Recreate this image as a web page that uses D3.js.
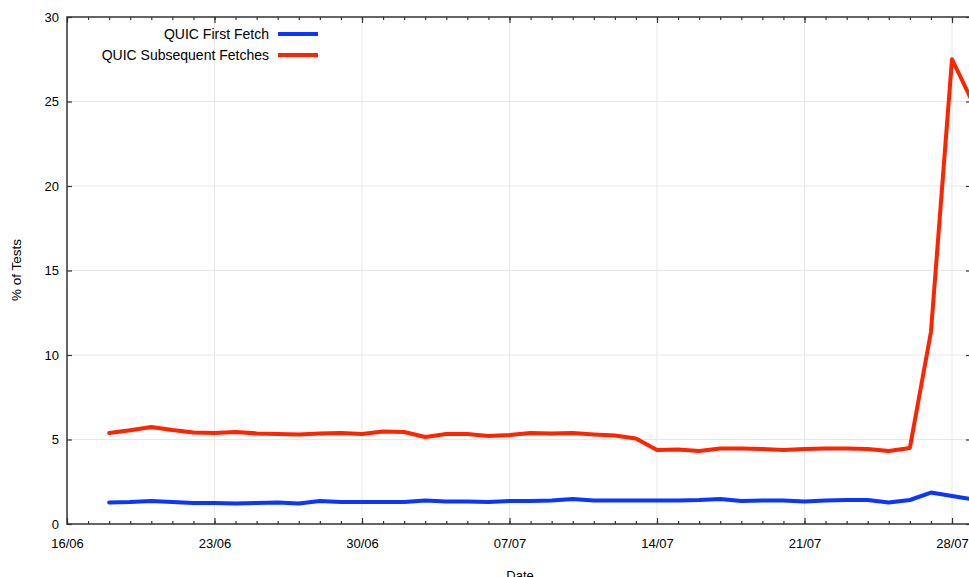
<!DOCTYPE html>
<html><head><meta charset="utf-8">
<script src="https://cdn.jsdelivr.net/npm/d3@7/dist/d3.min.js"></script>
<style>
html,body{margin:0;padding:0;background:#fff;overflow:hidden}
svg{display:block;font-family:"Liberation Sans",Arial,Helvetica,sans-serif}
</style></head>
<body><svg id="c" width="969" height="577"></svg>
<script>
const startDate = "2014-06-18";
const seriesNames = ["QUIC First Fetch", "QUIC Subsequent Fetches"];
const firstFetch = [1.27,1.30,1.36,1.30,1.24,1.24,1.21,1.24,1.27,1.21,1.36,1.30,1.30,1.30,1.30,1.39,1.33,1.33,1.30,1.36,1.36,1.39,1.48,1.39,1.39,1.39,1.39,1.39,1.42,1.48,1.36,1.39,1.39,1.33,1.39,1.42,1.42,1.27,1.42,1.86,1.66,1.45];
const subsequentFetches = [5.38,5.55,5.74,5.56,5.41,5.38,5.44,5.36,5.33,5.30,5.36,5.38,5.33,5.47,5.44,5.15,5.33,5.33,5.21,5.27,5.38,5.36,5.38,5.30,5.24,5.06,4.38,4.41,4.32,4.47,4.47,4.44,4.38,4.44,4.47,4.47,4.44,4.32,4.50,11.36,27.5,24.9];
const xTickLabels = ["16/06","23/06","30/06","07/07","14/07","21/07","28/07"];
const yTicks = [0,5,10,15,20,25,30];
const colors = ["#0a36ff","#ff2400"];

const svg = d3.select("#c");
const L = 67, T = 17, B = 524, R = 971;
const parse = d3.utcParse("%Y-%m-%d");
const d0 = parse("2014-06-16"), d28 = parse("2014-07-28");
const x = d3.scaleUtc().domain([d0, d28]).range([L, 952]);
const y = d3.scaleLinear().domain([0, 30]).range([B, T]);
const dEnd = x.invert(R);
const s0 = parse(startDate);
const dates = firstFetch.map((_, i) => d3.utcDay.offset(s0, i));
const majors = xTickLabels.map((_, i) => d3.utcDay.offset(d0, 7 * i));
const minors = d3.utcDay.range(d0, dEnd);

// grid
const g = svg.append("g");
g.selectAll("line.vx").data(majors.slice(1)).join("line")
  .attr("x1", d => x(d)).attr("x2", d => x(d)).attr("y1", T).attr("y2", B)
  .attr("stroke", "#e8e8e8").attr("stroke-width", 1);
g.selectAll("line.hy").data(yTicks.slice(1, -1)).join("line")
  .attr("x1", L).attr("x2", R).attr("y1", d => y(d)).attr("y2", d => y(d))
  .attr("stroke", "#e8e8e8").attr("stroke-width", 1);

// clip
svg.append("clipPath").attr("id", "clip").append("rect")
  .attr("x", L).attr("y", T).attr("width", R - L).attr("height", B - T);

// lines
const line = d3.line().x((d, i) => x(dates[i])).y(d => y(d));
[firstFetch, subsequentFetches].forEach((s, k) => {
  svg.append("path").datum(s).attr("clip-path", "url(#clip)")
    .attr("d", line).attr("fill", "none").attr("stroke", colors[k])
    .attr("stroke-width", 4).attr("stroke-linejoin", "round").attr("stroke-linecap", "round");
});

const axisColor = "#333";
function style(sel) {
  sel.select(".domain").remove();
  sel.selectAll(".tick line").attr("stroke", axisColor).attr("stroke-width", 1.2);
  sel.selectAll("text").attr("fill", "#000").attr("font-size", 13)
    .attr("font-family", '"Liberation Sans",Arial,sans-serif');
}
// bottom
svg.append("g").attr("transform", `translate(0,${B})`)
  .call(d3.axisBottom(x).tickValues(minors).tickSize(-3).tickFormat(""))
  .call(style);
svg.append("g").attr("transform", `translate(0,${B})`)
  .call(d3.axisBottom(x).tickValues(majors).tickSize(-6).tickPadding(15)
    .tickFormat((d, i) => xTickLabels[i]))
  .call(style);
// top
svg.append("g").attr("transform", `translate(0,${T})`)
  .call(d3.axisTop(x).tickValues(minors).tickSize(-3).tickFormat(""))
  .call(style);
svg.append("g").attr("transform", `translate(0,${T})`)
  .call(d3.axisTop(x).tickValues(majors).tickSize(-6).tickFormat(""))
  .call(style);
// left
svg.append("g").attr("transform", `translate(${L},0)`)
  .call(d3.axisLeft(y).tickValues(yTicks).tickSize(-5).tickPadding(8))
  .call(style);
// right
svg.append("g").attr("transform", `translate(${R},0)`)
  .call(d3.axisRight(y).tickValues(yTicks).tickSize(-5).tickFormat(""))
  .call(style);

// frame
svg.append("rect").attr("x", L).attr("y", T).attr("width", R - L).attr("height", B - T)
  .attr("fill", "none").attr("stroke", axisColor).attr("stroke-width", 1.5);

// axis titles
svg.append("text").attr("x", 520).attr("y", 580).attr("text-anchor", "middle")
  .attr("font-size", 13).text("Date");
svg.append("text").attr("transform", "translate(21,270) rotate(-90)")
  .attr("text-anchor", "middle").attr("font-size", 13.5).text("% of Tests");

// legend
const leg = svg.append("g");
seriesNames.forEach((n, k) => {
  const yy = 34 + k * 21;
  leg.append("text").attr("x", 269).attr("y", yy).attr("dy", "0.35em")
    .attr("text-anchor", "end").attr("font-size", 14).text(n);
  leg.append("line").attr("x1", 278).attr("x2", 318).attr("y1", yy).attr("y2", yy)
    .attr("stroke", colors[k]).attr("stroke-width", 4);
});
</script></body></html>
